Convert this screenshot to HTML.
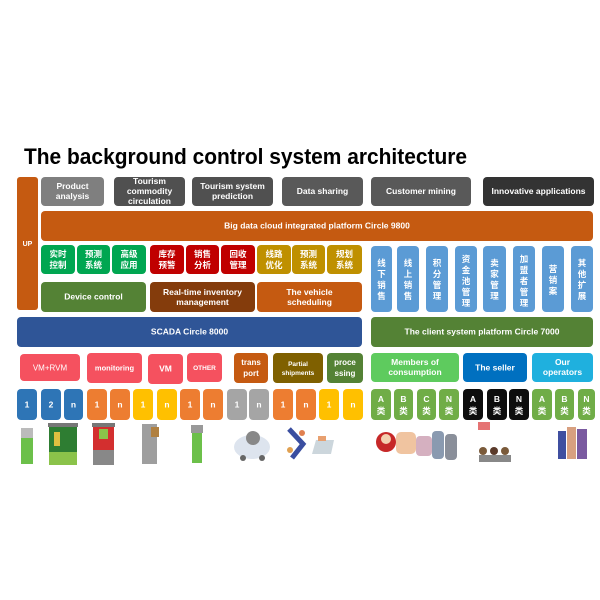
<!DOCTYPE html>
<html><head><meta charset="utf-8"><style>
html,body{margin:0;padding:0;background:#fff;}
svg{display:block;}
text{font-family:"Liberation Sans","Noto Sans CJK SC",sans-serif;font-weight:bold;fill:#fff;text-anchor:middle;}
</style></head><body>
<svg width="600" height="600" viewBox="0 0 600 600" xmlns="http://www.w3.org/2000/svg">
<text x="24" y="164" textLength="443" lengthAdjust="spacingAndGlyphs" style="fill:#000;text-anchor:start;font-size:22px">The background control system architecture</text>

<rect x="17" y="177" width="21" height="133" rx="3" fill="#c55a11"/>
<text x="27.5" y="246" font-size="7">UP</text>

<rect x="41" y="177" width="63" height="29" rx="4" fill="#7f7f7f"/>
<text x="72.5" y="189" font-size="8.5">Product</text><text x="72.5" y="199" font-size="8.5">analysis</text>
<rect x="114" y="177" width="71" height="29" rx="4" fill="#505050"/>
<text x="149.5" y="184" font-size="8.5">Tourism</text><text x="149.5" y="194" font-size="8.5">commodity</text><text x="149.5" y="204" font-size="8.5">circulation</text>
<rect x="192" y="177" width="81" height="29" rx="4" fill="#505050"/>
<text x="232.5" y="189" font-size="8.5">Tourism system</text><text x="232.5" y="199" font-size="8.5">prediction</text>
<rect x="282" y="177" width="81" height="29" rx="4" fill="#595959"/>
<text x="322.5" y="194" font-size="8.5">Data sharing</text>
<rect x="371" y="177" width="100" height="29" rx="4" fill="#595959"/>
<text x="421" y="194" font-size="8.5">Customer mining</text>
<rect x="483" y="177" width="111" height="29" rx="4" fill="#333333"/>
<text x="538.5" y="194" font-size="8.5">Innovative applications</text>

<rect x="41" y="211" width="552" height="30" rx="4" fill="#c55a11"/>
<text x="317" y="228.5" font-size="8.5">Big data cloud integrated platform  Circle 9800</text>

<g font-size="8.5">
<rect x="41" y="245" width="34" height="29" rx="4" fill="#00a651"/><text x="58" y="257">实时</text><text x="58" y="268">控制</text>
<rect x="77" y="245" width="33" height="29" rx="4" fill="#00a651"/><text x="93.5" y="257">预测</text><text x="93.5" y="268">系统</text>
<rect x="112" y="245" width="34" height="29" rx="4" fill="#00a651"/><text x="129" y="257">高级</text><text x="129" y="268">应用</text>
<rect x="150" y="245" width="34" height="29" rx="4" fill="#c00000"/><text x="167" y="257">库存</text><text x="167" y="268">预警</text>
<rect x="186" y="245" width="33" height="29" rx="4" fill="#c00000"/><text x="202.5" y="257">销售</text><text x="202.5" y="268">分析</text>
<rect x="221" y="245" width="34" height="29" rx="4" fill="#c00000"/><text x="238" y="257">回收</text><text x="238" y="268">管理</text>
<rect x="257" y="245" width="34" height="29" rx="4" fill="#bf9000"/><text x="274" y="257">线路</text><text x="274" y="268">优化</text>
<rect x="292" y="245" width="33" height="29" rx="4" fill="#bf9000"/><text x="308.5" y="257">预测</text><text x="308.5" y="268">系统</text>
<rect x="327" y="245" width="35" height="29" rx="4" fill="#bf9000"/><text x="344.5" y="257">规划</text><text x="344.5" y="268">系统</text>
</g>

<rect x="41" y="282" width="105" height="30" rx="4" fill="#548235"/>
<text x="93.5" y="299.5" font-size="8.5">Device control</text>
<rect x="150" y="282" width="105" height="30" rx="4" fill="#843c0c"/>
<text x="202.5" y="295" font-size="8.5">Real-time inventory</text><text x="202.5" y="305" font-size="8.5">management</text>
<rect x="257" y="282" width="105" height="30" rx="4" fill="#c55a11"/>
<text x="309.5" y="295" font-size="8.5">The vehicle</text><text x="309.5" y="305" font-size="8.5">scheduling</text>

<g font-size="8.5">
<rect x="371" y="246" width="21" height="66" rx="4" fill="#5b9bd5"/><text x="381.5" y="266">线</text><text x="381.5" y="277">下</text><text x="381.5" y="288">销</text><text x="381.5" y="299">售</text>
<rect x="397" y="246" width="22" height="66" rx="4" fill="#5b9bd5"/><text x="408" y="266">线</text><text x="408" y="277">上</text><text x="408" y="288">销</text><text x="408" y="299">售</text>
<rect x="426" y="246" width="22" height="66" rx="4" fill="#5b9bd5"/><text x="437" y="266">积</text><text x="437" y="277">分</text><text x="437" y="288">管</text><text x="437" y="299">理</text>
<rect x="455" y="246" width="22" height="66" rx="4" fill="#5b9bd5"/><text x="466" y="262">资</text><text x="466" y="273">金</text><text x="466" y="284">池</text><text x="466" y="295">管</text><text x="466" y="306">理</text>
<rect x="483" y="246" width="23" height="66" rx="4" fill="#5b9bd5"/><text x="494.5" y="266">卖</text><text x="494.5" y="277">家</text><text x="494.5" y="288">管</text><text x="494.5" y="299">理</text>
<rect x="513" y="246" width="22" height="66" rx="4" fill="#5b9bd5"/><text x="524" y="262">加</text><text x="524" y="273">盟</text><text x="524" y="284">者</text><text x="524" y="295">管</text><text x="524" y="306">理</text>
<rect x="542" y="246" width="22" height="66" rx="4" fill="#5b9bd5"/><text x="553" y="272">营</text><text x="553" y="283">销</text><text x="553" y="294">案</text>
<rect x="571" y="246" width="22" height="66" rx="4" fill="#5b9bd5"/><text x="582" y="266">其</text><text x="582" y="277">他</text><text x="582" y="288">扩</text><text x="582" y="299">展</text>
</g>

<rect x="17" y="317" width="345" height="30" rx="4" fill="#2f5597"/>
<text x="189.5" y="334.5" font-size="8.5">SCADA  Circle 8000</text>
<rect x="371" y="317" width="222" height="30" rx="4" fill="#548235"/>
<text x="482" y="334.5" font-size="8.5">The client system platform Circle 7000</text>

<rect x="20" y="354" width="60" height="27" rx="4" fill="#f5515f"/><text x="50" y="370.5" font-size="8" style="font-weight:normal">VM+RVM</text>
<rect x="87" y="353" width="55" height="30" rx="4" fill="#f5515f"/><text x="114.5" y="370.5" font-size="7.5">monitoring</text>
<rect x="148" y="354" width="35" height="30" rx="4" fill="#f5515f"/><text x="165.5" y="371.5" font-size="8.5">VM</text>
<rect x="187" y="353" width="35" height="29" rx="4" fill="#f5515f"/><text x="204.5" y="370" font-size="6.5">OTHER</text>
<rect x="234" y="353" width="34" height="30" rx="4" fill="#c55a11"/><text x="251" y="365" font-size="8">trans</text><text x="251" y="376" font-size="8">port</text>
<rect x="273" y="353" width="50" height="30" rx="4" fill="#7f6000"/><text x="298" y="366" font-size="6.5">Partial</text><text x="298" y="375" font-size="6.5">shipments</text>
<rect x="327" y="353" width="36" height="30" rx="4" fill="#548235"/><text x="345" y="365" font-size="8">proce</text><text x="345" y="376" font-size="8">ssing</text>
<rect x="371" y="353" width="88" height="29" rx="4" fill="#5ecb5e"/><text x="415" y="365" font-size="8.5">Members of</text><text x="415" y="375" font-size="8.5">consumption</text>
<rect x="463" y="353" width="64" height="29" rx="4" fill="#0070c0"/><text x="495" y="370.5" font-size="8.5">The seller</text>
<rect x="532" y="353" width="61" height="29" rx="4" fill="#1fb0de"/><text x="562.5" y="365" font-size="8.5">Our</text><text x="562.5" y="375" font-size="8.5">operators</text>

<g font-size="8.5">
<rect x="17" y="389" width="20" height="31" rx="4" fill="#2e75b6"/><text x="27" y="407.5">1</text>
<rect x="41" y="389" width="20" height="31" rx="4" fill="#2e75b6"/><text x="51" y="407.5">2</text>
<rect x="64" y="389" width="19" height="31" rx="4" fill="#2e75b6"/><text x="73.5" y="407.5">n</text>
<rect x="87" y="389" width="20" height="31" rx="4" fill="#ed7d31"/><text x="97" y="407.5">1</text>
<rect x="110" y="389" width="20" height="31" rx="4" fill="#ed7d31"/><text x="120" y="407.5">n</text>
<rect x="133" y="389" width="20" height="31" rx="4" fill="#ffc000"/><text x="143" y="407.5">1</text>
<rect x="157" y="389" width="20" height="31" rx="4" fill="#ffc000"/><text x="167" y="407.5">n</text>
<rect x="180" y="389" width="20" height="31" rx="4" fill="#ed7d31"/><text x="190" y="407.5">1</text>
<rect x="203" y="389" width="20" height="31" rx="4" fill="#ed7d31"/><text x="213" y="407.5">n</text>
<rect x="227" y="389" width="20" height="31" rx="4" fill="#a5a5a5"/><text x="237" y="407.5">1</text>
<rect x="249" y="389" width="20" height="31" rx="4" fill="#a5a5a5"/><text x="259" y="407.5">n</text>
<rect x="273" y="389" width="20" height="31" rx="4" fill="#ed7d31"/><text x="283" y="407.5">1</text>
<rect x="296" y="389" width="20" height="31" rx="4" fill="#ed7d31"/><text x="306" y="407.5">n</text>
<rect x="319" y="389" width="20" height="31" rx="4" fill="#ffc000"/><text x="329" y="407.5">1</text>
<rect x="343" y="389" width="20" height="31" rx="4" fill="#ffc000"/><text x="353" y="407.5">n</text>
</g>
<g font-size="8.5">
<rect x="371" y="389" width="20" height="31" rx="4" fill="#70ad47"/><text x="381" y="402">A</text><text x="381" y="414">类</text>
<rect x="394" y="389" width="19" height="31" rx="4" fill="#70ad47"/><text x="403.5" y="402">B</text><text x="403.5" y="414">类</text>
<rect x="417" y="389" width="19" height="31" rx="4" fill="#70ad47"/><text x="426.5" y="402">C</text><text x="426.5" y="414">类</text>
<rect x="439" y="389" width="20" height="31" rx="4" fill="#70ad47"/><text x="449" y="402">N</text><text x="449" y="414">类</text>
<rect x="463" y="389" width="20" height="31" rx="4" fill="#0d0d0d"/><text x="473" y="402">A</text><text x="473" y="414">类</text>
<rect x="487" y="389" width="20" height="31" rx="4" fill="#0d0d0d"/><text x="497" y="402">B</text><text x="497" y="414">类</text>
<rect x="509" y="389" width="20" height="31" rx="4" fill="#0d0d0d"/><text x="519" y="402">N</text><text x="519" y="414">类</text>
<rect x="532" y="389" width="20" height="31" rx="4" fill="#70ad47"/><text x="542" y="402">A</text><text x="542" y="414">类</text>
<rect x="555" y="389" width="19" height="31" rx="4" fill="#70ad47"/><text x="564.5" y="402">B</text><text x="564.5" y="414">类</text>
<rect x="578" y="389" width="17" height="31" rx="4" fill="#70ad47"/><text x="586.5" y="402">N</text><text x="586.5" y="414">类</text>
</g>

<rect x="21" y="428" width="12" height="10" fill="#bbb"/><rect x="21" y="438" width="12" height="26" fill="#6cc04a"/>
<rect x="48" y="423" width="30" height="4" fill="#777"/><rect x="49" y="427" width="28" height="25" fill="#2e7d32"/><rect x="54" y="432" width="6" height="14" fill="#e0c040"/><rect x="49" y="452" width="28" height="13" fill="#8bc34a"/>
<rect x="92" y="423" width="23" height="4" fill="#777"/><rect x="93" y="427" width="21" height="23" fill="#d32f2f"/><rect x="99" y="429" width="9" height="10" fill="#8bc34a"/><rect x="93" y="450" width="21" height="15" fill="#888"/>
<rect x="142" y="424" width="15" height="40" fill="#9e9e9e"/><rect x="151" y="427" width="8" height="10" fill="#b08040"/>
<rect x="191" y="425" width="12" height="8" fill="#999"/><rect x="192" y="433" width="10" height="30" fill="#6cc04a"/>
<ellipse cx="252" cy="447" rx="18" ry="12" fill="#dde4ee"/><circle cx="253" cy="438" r="7" fill="#888"/><circle cx="243" cy="458" r="3" fill="#666"/><circle cx="262" cy="458" r="3" fill="#666"/>
<path d="M289 429 L303 444 L292 458" stroke="#3a4ea0" stroke-width="5" fill="none"/><circle cx="302" cy="433" r="3" fill="#e08050"/><circle cx="290" cy="450" r="3" fill="#e0a050"/>
<polygon points="316,440 334,440 331,454 312,454" fill="#ccd6dc"/><rect x="318" y="436" width="8" height="5" fill="#e8a070"/>
<circle cx="386" cy="442" r="10" fill="#c62828"/><circle cx="386" cy="439" r="5" fill="#f3d0b0"/>
<rect x="396" y="432" width="20" height="22" fill="#f0c4a0" rx="5"/><rect x="416" y="436" width="16" height="20" fill="#d5b0c0" rx="4"/>
<rect x="432" y="431" width="12" height="28" fill="#8a9ab0" rx="4"/><rect x="445" y="434" width="12" height="26" fill="#8a8f9a" rx="4"/>
<rect x="478" y="422" width="12" height="8" fill="#e57373"/><circle cx="483" cy="451" r="4" fill="#7a5a3a"/><circle cx="494" cy="451" r="4" fill="#5a3a2a"/><circle cx="505" cy="451" r="4" fill="#7a5a3a"/><rect x="479" y="455" width="32" height="7" fill="#888"/>
<rect x="558" y="431" width="8" height="28" fill="#3f4fa0"/><rect x="567" y="427" width="9" height="32" fill="#d8a080"/><rect x="577" y="429" width="10" height="30" fill="#7a5aa0"/>
</svg>
</body></html>
